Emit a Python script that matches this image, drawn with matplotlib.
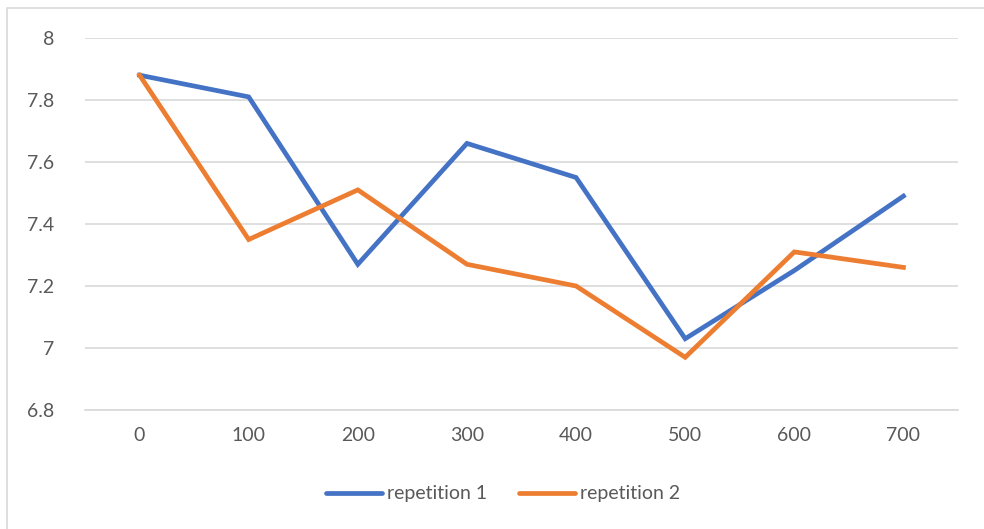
import matplotlib.pyplot as plt
from matplotlib.patches import Rectangle

plt.rcParams["font.family"] = ["Lato", "DejaVu Sans"]

categories = ["0", "100", "200", "300", "400", "500", "600", "700"]
repetition_1 = [7.88, 7.81, 7.27, 7.66, 7.55, 7.03, 7.25, 7.49]
repetition_2 = [7.88, 7.35, 7.51, 7.27, 7.20, 6.97, 7.31, 7.26]
y_ticks = [6.8, 7.0, 7.2, 7.4, 7.6, 7.8, 8.0]
y_labels = ["6.8", "7", "7.2", "7.4", "7.6", "7.8", "8"]

W, H = 984, 529
fig = plt.figure(figsize=(W / 100, H / 100), dpi=100)
fig.patches.append(Rectangle((7 / W, -0.1), 1.2, 1 - 8 / H + 0.1,
                             transform=fig.transFigure, fill=False,
                             edgecolor="#d9d9d9", lw=1.2))

ax = fig.add_axes([85 / W, 1 - 410 / H, (958 - 85) / W, (410 - 38) / H])
x = list(range(len(categories)))
ax.plot(x, repetition_1, color="#4472C4", lw=3.4, solid_joinstyle="miter",
        label="repetition 1")
ax.plot(x, repetition_2, color="#ED7D31", lw=3.4, solid_joinstyle="miter",
        label="repetition 2")

ax.set_xlim(-0.5, len(categories) - 0.5)
ax.set_ylim(6.8, 8.0)
ax.set_yticks(y_ticks)
ax.set_yticklabels(y_labels)
ax.set_xticks(x)
ax.set_xticklabels(categories)
ax.tick_params(axis="both", length=0, labelsize=14, labelcolor="#595959")
ax.tick_params(axis="y", pad=22)
ax.tick_params(axis="x", pad=12)
ax.grid(axis="y", color="#d9d9d9", lw=1.2)
ax.set_axisbelow(True)
for s in ["top", "right", "left"]:
    ax.spines[s].set_visible(False)
ax.spines["bottom"].set_color("#d9d9d9")
ax.spines["bottom"].set_linewidth(1.2)

leg = fig.legend(loc="center", bbox_to_anchor=(503 / W, 1 - 494 / H), ncol=2,
                 frameon=False, fontsize=14, handlelength=2.9, handletextpad=0.25,
                 columnspacing=1.6)
for t in leg.get_texts():
    t.set_color("#595959")
for h in leg.get_lines():
    h.set_linewidth(3.4)
    h.set_solid_capstyle("round")

fig.savefig("out.png", dpi=100)
